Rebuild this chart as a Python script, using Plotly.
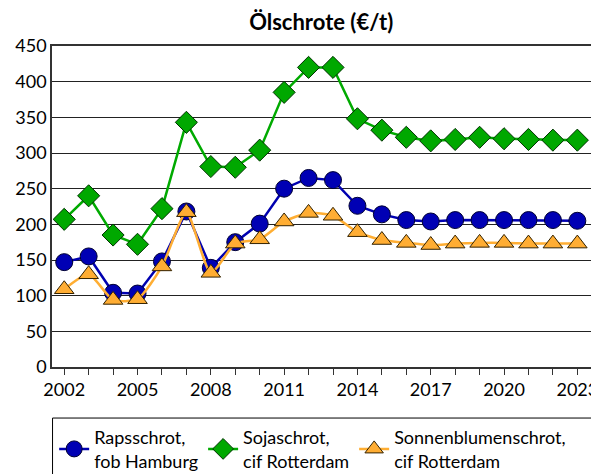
import plotly.graph_objects as go

years = list(range(2002, 2024))
raps = [147, 155, 104, 103, 148, 218, 139, 175, 201, 250, 265, 262,
        226, 214, 206, 204, 206, 206, 206, 206, 206, 205]
soja = [207, 240, 185, 172, 222, 343, 281, 280, 304, 385, 420, 420,
        348, 332, 322, 317, 319, 322, 320, 319, 318, 318]
sonne = [109, 130, 94, 95, 141, 217, 132, 173, 179, 204, 216, 212,
         189, 178, 174, 171, 173, 174, 174, 173, 173, 173]
names = ["Rapsschrot,<br>fob Hamburg", "Sojaschrot,<br>cif Rotterdam",
         "Sonnenblumenschrot,<br>cif Rotterdam"]
title = "Ölschrote (€/t)"
y_ticks = list(range(0, 451, 50))
x_labels = [str(y) if (y - 2002) % 3 == 0 else "" for y in years]

FONT = "Lato, 'Open Sans', sans-serif"
LEG_TOP = -0.159

fig = go.Figure()
fig.add_trace(go.Scatter(
    x=years, y=raps, name=names[0], mode="lines+markers",
    line=dict(color="#0000b0", width=2.5),
    marker=dict(symbol="circle", size=17, color="#0000b4",
                line=dict(color="#000033", width=1))))
fig.add_trace(go.Scatter(
    x=years, y=soja, name=names[1], mode="lines+markers",
    line=dict(color="#00aa00", width=2.5),
    marker=dict(symbol="diamond", size=17, color="#00a800",
                line=dict(color="#003300", width=1))))
fig.add_trace(go.Scatter(
    x=years, y=sonne, name=names[2], mode="lines+markers",
    line=dict(color="#ffae33", width=2.5, shape="spline", smoothing=0.6),
    marker=dict(symbol="triangle-up", size=17, color="#ffad33",
                line=dict(color="#332200", width=1))))

# legend frame (runs past the bottom edge, as in the reference)
fig.add_shape(type="rect", xref="paper", yref="paper",
              x0=0.001, x1=1.002, y0=LEG_TOP, y1=-0.6,
              line=dict(color="black", width=1), fillcolor="rgba(0,0,0,0)",
              layer="above")

# page body has an 8px margin, so the figure is offset accordingly
fig.update_layout(
    width=591, height=466,
    margin=dict(l=44, r=7, t=38, b=107, autoexpand=False),
    paper_bgcolor="white", plot_bgcolor="white",
    font=dict(family=FONT, size=18, color="black"),
    title=dict(text="<b>" + title + "</b>", x=0.53, xanchor="center",
               y=0.97, yanchor="middle", font=dict(size=22)),
    showlegend=True,
    legend=dict(orientation="h", x=0.004, xanchor="left", y=LEG_TOP - 0.003,
                yanchor="top", borderwidth=0, bgcolor="rgba(0,0,0,0)",
                font=dict(size=18), traceorder="normal",
                itemwidth=30),
)
fig.update_xaxes(
    range=[2001.5, 2023.6], tickvals=years, ticktext=x_labels,
    ticks="outside", ticklen=6, tickcolor="#333", showgrid=False,
    showline=True, linecolor="#333", linewidth=1.5, mirror=True,
    zeroline=False, tickfont=dict(size=18), automargin=False)
fig.update_yaxes(
    range=[0, 450], tickvals=y_ticks, showgrid=True, gridcolor="#222",
    gridwidth=1, showline=True, linecolor="#333", linewidth=1.5,
    mirror=True, zeroline=False, ticks="", tickfont=dict(size=18),
    automargin=False)

fig.write_html("out.html")
